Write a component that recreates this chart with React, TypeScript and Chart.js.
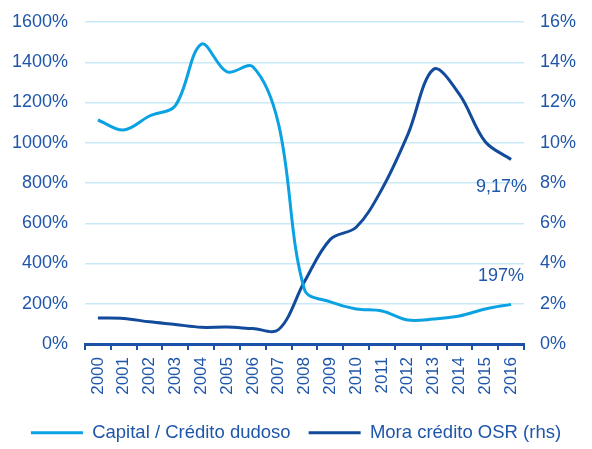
import React, { useEffect, useRef } from "react";
import { Chart, registerables } from "chart.js";

Chart.register(...registerables);

const years = ["2000", "2001", "2002", "2003", "2004", "2005", "2006", "2007", "2008", "2009", "2010", "2011", "2012", "2013", "2014", "2015", "2016"];
const capitalCredito = [1113, 1063, 1133, 1185, 1490, 1352, 1378, 1090, 270, 209, 174, 164, 119, 124, 139, 174, 197];
const moraCredito = [1.29, 1.27, 1.1, 0.97, 0.83, 0.84, 0.77, 0.72, 3.1, 5.2, 5.8, 7.7, 10.4, 13.65, 12.4, 10.05, 9.17];
const labelCapital = "Capital / Crédito dudoso";
const labelMora = "Mora crédito OSR (rhs)";
const noteMora = "9,17%";
const noteCapital = "197%";

const FONT = "'Liberation Sans', Arial, sans-serif";
const TEXT = "#1F56AA";
const AXIS = "#1B52A6";
const GRID = "#C9E9F8";
const LIGHT = "#0AA2E2";
const DARK = "#124A9C";

const endNotes = {
  id: "endNotes",
  afterDatasetsDraw(chart: any) {
    const { ctx, scales } = chart;
    const last = years.length - 1;
    const x = scales.x.getPixelForValue(last);
    const yM = scales.y1.getPixelForValue(moraCredito[last]);
    const yC = scales.y.getPixelForValue(capitalCredito[last]);
    ctx.save();
    ctx.font = `18px ${FONT}`;
    ctx.fillStyle = TEXT;
    ctx.textAlign = "right";
    ctx.textBaseline = "middle";
    ctx.fillText(noteMora, x + 16, yM + 28);
    ctx.fillText(noteCapital, x + 13, yC - 28);
    ctx.restore();
  },
};

export default function App() {
  const ref = useRef<HTMLCanvasElement | null>(null);

  useEffect(() => {
    if (!ref.current) return;
    Chart.defaults.font.family = FONT;
    const chart = new Chart(ref.current, {
      type: "line",
      data: {
        labels: years,
        datasets: [
          {
            label: labelCapital,
            data: capitalCredito,
            borderColor: LIGHT,
            backgroundColor: LIGHT,
            borderWidth: 3,
            pointRadius: 0,
            tension: 0.35,
            yAxisID: "y",
          },
          {
            label: labelMora,
            data: moraCredito,
            borderColor: DARK,
            backgroundColor: DARK,
            borderWidth: 3,
            pointRadius: 0,
            tension: 0.35,
            yAxisID: "y1",
          },
        ],
      },
      options: {
        animation: false,
        responsive: true,
        maintainAspectRatio: false,
        layout: { padding: { top: 22, left: 0, right: 0, bottom: -3 } },
        plugins: {
          tooltip: { enabled: false },
          legend: {
            position: "bottom",
            labels: {
              usePointStyle: true,
              pointStyle: "line",
              pointStyleWidth: 52,
              padding: 18,
              color: TEXT,
              font: { size: 18.5, family: FONT },
            },
          },
        },
        scales: {
          x: {
            type: "category",
            offset: true,
            grid: {
              offset: true,
              drawOnChartArea: false,
              drawTicks: true,
              tickLength: 6,
              color: AXIS,
              lineWidth: 2,
            },
            border: { display: true, color: AXIS, width: 3 },
            ticks: {
              autoSkip: false,
              minRotation: 90,
              maxRotation: 90,
              padding: 7,
              color: TEXT,
              font: { size: 17, family: FONT },
            },
            afterFit: (s: any) => {
              s.height = 61.5;
            },
          },
          y: {
            position: "left",
            min: 0,
            max: 1600,
            ticks: {
              stepSize: 200,
              padding: 17,
              color: TEXT,
              font: { size: 18, family: FONT },
              callback: (v: any) => `${v}%`,
            },
            grid: { color: GRID, lineWidth: 1.5, drawTicks: false },
            border: { display: false },
            afterFit: (s: any) => {
              s.width = 85;
              s.paddingTop = 0;
              s.paddingBottom = 0;
            },
          },
          y1: {
            position: "right",
            min: 0,
            max: 16,
            ticks: {
              stepSize: 2,
              padding: 16,
              color: TEXT,
              font: { size: 18, family: FONT },
              callback: (v: any) => `${v}%`,
            },
            grid: { drawOnChartArea: false, drawTicks: false },
            border: { display: false },
            afterFit: (s: any) => {
              s.width = 68;
              s.paddingTop = 0;
              s.paddingBottom = 0;
            },
          },
        },
      },
      plugins: [endNotes],
    });
    return () => chart.destroy();
  }, []);

  return (
    <div style={{ position: "fixed", left: 0, top: 0, width: 592, height: 449, background: "#fff" }}>
      <canvas ref={ref} />
    </div>
  );
}
